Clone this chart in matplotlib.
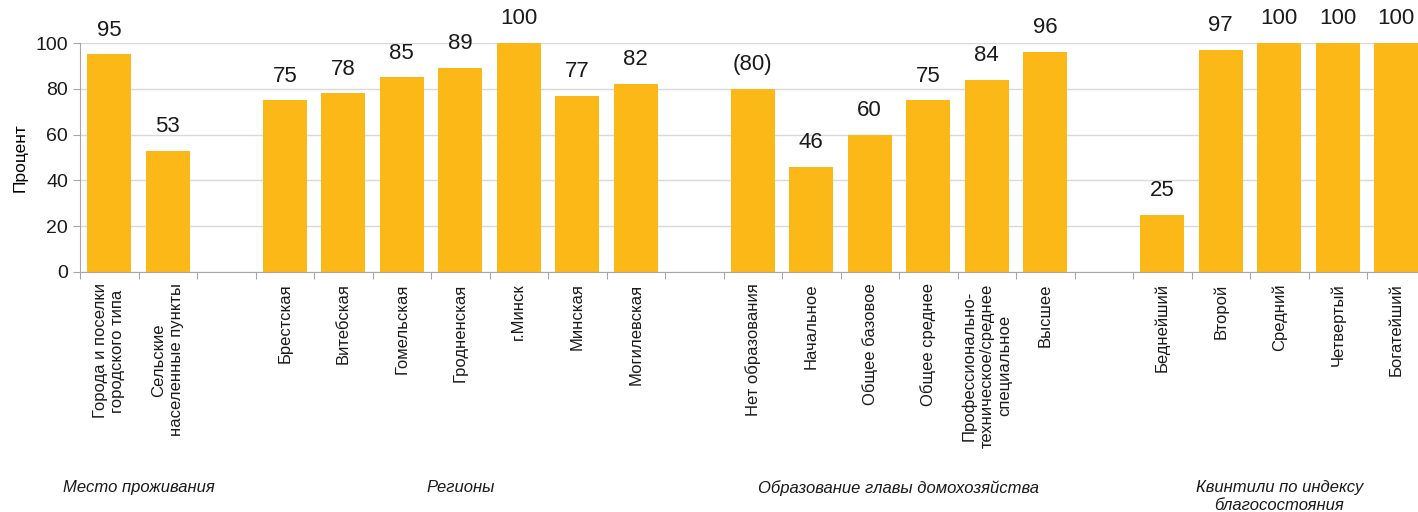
import matplotlib
matplotlib.use("Agg")
import matplotlib.pyplot as plt
import numpy as np

plt.rcParams['font.family'] = ['Liberation Sans', 'DejaVu Sans']

groups = ["Место проживания", "Регионы", "Образование главы домохозяйства",
          "Квинтили по индексу\nблагосостояния"]
group_cats = [
    ["Города и поселки\nгородского типа", "Сельские\nнаселенные пункты"],
    ["Брестская", "Витебская", "Гомельская", "Гродненская", "г.Минск", "Минская", "Могилевская"],
    ["Нет образования", "Начальное", "Общее базовое", "Общее среднее",
     "Профессионально-\nтехническое/среднее\nспециальное", "Высшее"],
    ["Беднейший", "Второй", "Средний", "Четвертый", "Богатейший"],
]
group_vals = [
    [95, 53],
    [75, 78, 85, 89, 100, 77, 82],
    [80, 46, 60, 75, 84, 96],
    [25, 97, 100, 100, 100],
]
val_labels = [
    ["95", "53"],
    ["75", "78", "85", "89", "100", "77", "82"],
    ["(80)", "46", "60", "75", "84", "96"],
    ["25", "97", "100", "100", "100"],
]

fig = plt.figure(figsize=(14.18, 5.12), dpi=100)
ax = fig.add_axes([80 / 1418, 1 - 272 / 512, (1418 - 80) / 1418, 229 / 512])

pos = 0
xs, labels, vals, vlabs, centers = [], [], [], [], []
for gi in range(len(groups)):
    start = pos
    for c, v, l in zip(group_cats[gi], group_vals[gi], val_labels[gi]):
        xs.append(pos)
        labels.append(c)
        vals.append(v)
        vlabs.append(l)
        pos += 1
    centers.append((start + pos - 1) / 2)
    pos += 1

ax.set_axisbelow(True)
ax.bar(xs, vals, width=0.75, color="#FBB817", zorder=2)
for x, v, l in zip(xs, vals, vlabs):
    ax.text(x, v + 6, l, ha="center", va="bottom", fontsize=16, color="#1a1a1a")

ax.set_yticks([0, 20, 40, 60, 80, 100])
ax.tick_params(axis="y", labelsize=14, length=5, colors="#A6A6A6", labelcolor="#1a1a1a")
ax.yaxis.grid(True, color="#D9D9D9", linewidth=1)
ax.set_ylabel("Процент", fontsize=12.5, labelpad=6)

ax.set_xticks(np.arange(-0.5, pos - 1, 1))
ax.set_xticklabels([])
ax.tick_params(axis="x", length=5, color="#A6A6A6")
ax.set_ylim(0, 100)
ax.set_xlim(-0.5, (1418 - 80) / 58.5 - 0.5)

for x, l in zip(xs, labels):
    ax.text(x, -5, l, rotation=90, ha="center", va="top", fontsize=12,
            multialignment="center", color="#1a1a1a")

for c, g in zip(centers, groups):
    ax.text(c, -91, g, ha="center", va="top", fontsize=12, style="italic",
            color="#1a1a1a")

for s in ["top", "right"]:
    ax.spines[s].set_visible(False)
ax.spines["left"].set_color("#A6A6A6")
ax.spines["bottom"].set_color("#A6A6A6")

fig.savefig("out.png", dpi=100)
